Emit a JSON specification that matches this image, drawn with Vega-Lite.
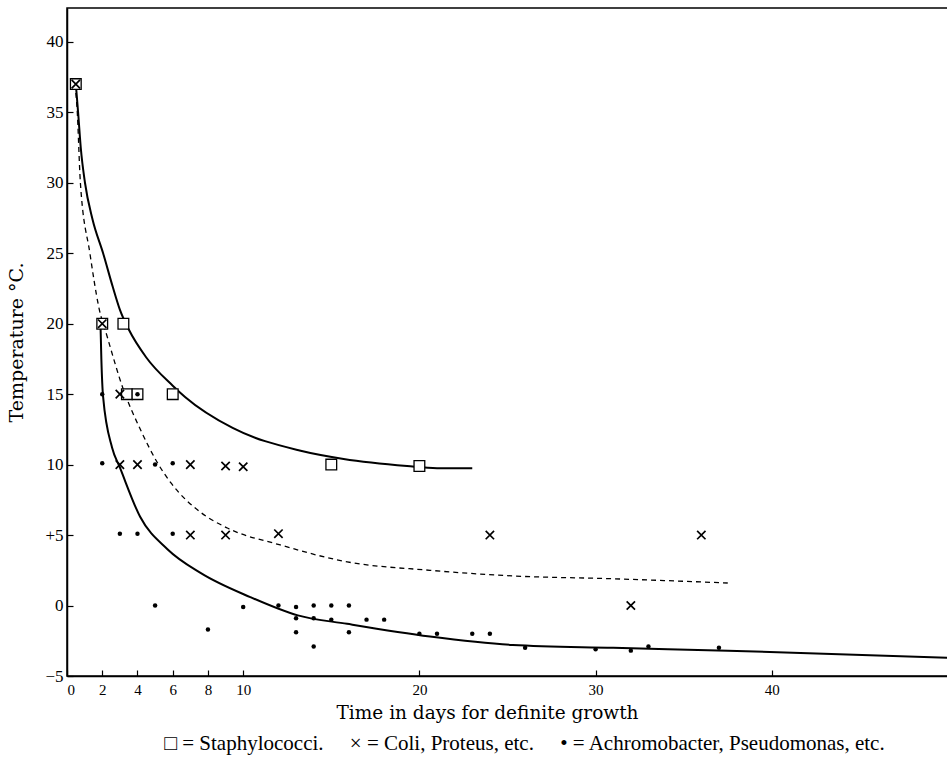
{
  "$schema": "https://vega.github.io/schema/vega-lite/v6.json",
  "width": 881,
  "height": 668,
  "autosize": "none",
  "padding": {"left": 67, "top": 8, "right": 0, "bottom": 89},
  "background": "white",
  "title": {
    "text": "□ = Staphylococci.\u00a0\u00a0\u00a0\u00a0\u00a0× = Coli, Proteus, etc.\u00a0\u00a0\u00a0\u00a0\u00a0• = Achromobacter, Pseudomonas, etc.",
    "orient": "bottom",
    "anchor": "middle",
    "frame": "group",
    "offset": 11,
    "font": "Liberation Serif",
    "fontSize": 21,
    "fontWeight": "normal",
    "color": "black",
    "dx": 17
  },
  "config": {
    "view": {"stroke": "black", "strokeWidth": 1.5},
    "font": "Liberation Serif",
    "title": {"font": "Liberation Serif", "fontWeight": "normal", "color": "black"},
    "axis": {
      "grid": false,
      "domainColor": "black",
      "domainWidth": 1.5,
      "tickColor": "black",
      "tickWidth": 1.2,
      "tickSize": -6,
      "labelColor": "black",
      "labelFont": "Liberation Serif",
      "labelFontSize": 17,
      "titleColor": "black",
      "titleFont": "DejaVu Serif",
      "titleFontWeight": "normal"
    }
  },
  "datasets": {
    "points": [
      {"group": "Staphylococci", "days": 0.5, "temp": 37},
      {"group": "Staphylococci", "days": 2, "temp": 20},
      {"group": "Staphylococci", "days": 3.2, "temp": 20},
      {"group": "Staphylococci", "days": 3.4, "temp": 15},
      {"group": "Staphylococci", "days": 4, "temp": 15},
      {"group": "Staphylococci", "days": 6, "temp": 15},
      {"group": "Staphylococci", "days": 15, "temp": 10},
      {"group": "Staphylococci", "days": 20, "temp": 9.9},
      {"group": "Coli", "days": 0.5, "temp": 37},
      {"group": "Coli", "days": 2, "temp": 20},
      {"group": "Coli", "days": 3, "temp": 15},
      {"group": "Coli", "days": 3, "temp": 10},
      {"group": "Coli", "days": 4, "temp": 10},
      {"group": "Coli", "days": 7, "temp": 10},
      {"group": "Coli", "days": 9, "temp": 9.9},
      {"group": "Coli", "days": 10, "temp": 9.85},
      {"group": "Coli", "days": 7, "temp": 5},
      {"group": "Coli", "days": 9, "temp": 5},
      {"group": "Coli", "days": 12, "temp": 5.1},
      {"group": "Coli", "days": 24, "temp": 5},
      {"group": "Coli", "days": 36, "temp": 5},
      {"group": "Coli", "days": 32, "temp": 0},
      {"group": "Achromobacter", "days": 2, "temp": 15},
      {"group": "Achromobacter", "days": 4, "temp": 15},
      {"group": "Achromobacter", "days": 2, "temp": 10.1},
      {"group": "Achromobacter", "days": 5, "temp": 10},
      {"group": "Achromobacter", "days": 6, "temp": 10.1},
      {"group": "Achromobacter", "days": 3, "temp": 5.1},
      {"group": "Achromobacter", "days": 4, "temp": 5.1},
      {"group": "Achromobacter", "days": 6, "temp": 5.1},
      {"group": "Achromobacter", "days": 5, "temp": 0},
      {"group": "Achromobacter", "days": 8, "temp": -1.7},
      {"group": "Achromobacter", "days": 10, "temp": -0.1},
      {"group": "Achromobacter", "days": 12, "temp": 0},
      {"group": "Achromobacter", "days": 13, "temp": -0.1},
      {"group": "Achromobacter", "days": 13, "temp": -0.9},
      {"group": "Achromobacter", "days": 13, "temp": -1.9},
      {"group": "Achromobacter", "days": 14, "temp": 0},
      {"group": "Achromobacter", "days": 14, "temp": -0.9},
      {"group": "Achromobacter", "days": 14, "temp": -2.9},
      {"group": "Achromobacter", "days": 15, "temp": 0},
      {"group": "Achromobacter", "days": 15, "temp": -1},
      {"group": "Achromobacter", "days": 16, "temp": 0},
      {"group": "Achromobacter", "days": 16, "temp": -1.9},
      {"group": "Achromobacter", "days": 17, "temp": -1},
      {"group": "Achromobacter", "days": 18, "temp": -1},
      {"group": "Achromobacter", "days": 20, "temp": -2},
      {"group": "Achromobacter", "days": 21, "temp": -2},
      {"group": "Achromobacter", "days": 23, "temp": -2},
      {"group": "Achromobacter", "days": 24, "temp": -2},
      {"group": "Achromobacter", "days": 26, "temp": -3},
      {"group": "Achromobacter", "days": 30, "temp": -3.1},
      {"group": "Achromobacter", "days": 32, "temp": -3.2},
      {"group": "Achromobacter", "days": 33, "temp": -2.9},
      {"group": "Achromobacter", "days": 37, "temp": -3}
    ],
    "curves": [
      {"curve": "upper", "days": 0.5, "temp": 37},
      {"curve": "upper", "days": 0.63, "temp": 35},
      {"curve": "upper", "days": 0.78, "temp": 32.5},
      {"curve": "upper", "days": 1.02, "temp": 30},
      {"curve": "upper", "days": 1.45, "temp": 27.4},
      {"curve": "upper", "days": 2.05, "temp": 25},
      {"curve": "upper", "days": 2.6, "temp": 22.6},
      {"curve": "upper", "days": 3.0, "temp": 21.0},
      {"curve": "upper", "days": 3.5, "temp": 19.6},
      {"curve": "upper", "days": 4.5, "temp": 17.6},
      {"curve": "upper", "days": 6.0, "temp": 15.6},
      {"curve": "upper", "days": 6.7, "temp": 14.8},
      {"curve": "upper", "days": 9.4, "temp": 12.6},
      {"curve": "upper", "days": 13.2, "temp": 11.0},
      {"curve": "upper", "days": 15.7, "temp": 10.4},
      {"curve": "upper", "days": 19.3, "temp": 9.9},
      {"curve": "upper", "days": 21.0, "temp": 9.75},
      {"curve": "upper", "days": 23.0, "temp": 9.75},
      {"curve": "middle", "days": 0.45, "temp": 37},
      {"curve": "middle", "days": 0.57, "temp": 35.3},
      {"curve": "middle", "days": 0.76, "temp": 30},
      {"curve": "middle", "days": 1.3, "temp": 25},
      {"curve": "middle", "days": 1.8, "temp": 21.2},
      {"curve": "middle", "days": 2.3, "temp": 19.0},
      {"curve": "middle", "days": 3.18, "temp": 15.4},
      {"curve": "middle", "days": 4.2, "temp": 12.4},
      {"curve": "middle", "days": 5.1, "temp": 10.2},
      {"curve": "middle", "days": 5.9, "temp": 8.7},
      {"curve": "middle", "days": 7.6, "temp": 6.6},
      {"curve": "middle", "days": 9.1, "temp": 5.5},
      {"curve": "middle", "days": 12.1, "temp": 4.3},
      {"curve": "middle", "days": 15.9, "temp": 3.1},
      {"curve": "middle", "days": 20.6, "temp": 2.5},
      {"curve": "middle", "days": 25.3, "temp": 2.1},
      {"curve": "middle", "days": 31.0, "temp": 1.9},
      {"curve": "middle", "days": 37.5, "temp": 1.6},
      {"curve": "lower", "days": 1.9, "temp": 20},
      {"curve": "lower", "days": 1.95, "temp": 17.5},
      {"curve": "lower", "days": 2.05, "temp": 14.8},
      {"curve": "lower", "days": 2.56, "temp": 11.2},
      {"curve": "lower", "days": 3.0, "temp": 9.8},
      {"curve": "lower", "days": 4.15, "temp": 6.3},
      {"curve": "lower", "days": 5.7, "temp": 4.0},
      {"curve": "lower", "days": 7.6, "temp": 2.3},
      {"curve": "lower", "days": 10.4, "temp": 0.6},
      {"curve": "lower", "days": 13.1, "temp": -0.7},
      {"curve": "lower", "days": 15.9, "temp": -1.3},
      {"curve": "lower", "days": 20.6, "temp": -2.2},
      {"curve": "lower", "days": 25.3, "temp": -2.8},
      {"curve": "lower", "days": 31.0, "temp": -3.0},
      {"curve": "lower", "days": 37.5, "temp": -3.2},
      {"curve": "lower", "days": 50, "temp": -3.7}
    ]
  },
  "encoding": {
    "x": {
      "field": "days",
      "type": "quantitative",
      "scale": {"domain": [0, 50], "nice": false, "zero": false},
      "axis": {
        "values": [0, 2, 4, 6, 8, 10, 20, 30, 40],
        "labelPadding": 12,
        "labelFontSize": 15,
        "title": "Time in days for definite growth",
        "titleFontSize": 18.5,
        "titlePadding": 6,
        "titleX": 420
      }
    },
    "y": {
      "field": "temp",
      "type": "quantitative",
      "scale": {"domain": [-5, 42.4], "nice": false, "zero": false},
      "axis": {
        "values": [-5, 0, 5, 10, 15, 20, 25, 30, 35, 40],
        "labelExpr": "datum.value == 5 ? '+5' : datum.label",
        "labelPadding": 10,
        "title": "Temperature °C.",
        "titleFontSize": 19,
        "titlePadding": 18
      }
    }
  },
  "layer": [
    {
      "data": {"name": "curves"},
      "transform": [{"filter": "datum.curve == 'upper'"}],
      "mark": {"type": "line", "color": "black", "strokeWidth": 2, "interpolate": "monotone"},
      "encoding": {}
    },
    {
      "data": {"name": "curves"},
      "transform": [{"filter": "datum.curve == 'middle'"}],
      "mark": {"type": "line", "color": "black", "strokeWidth": 1.3, "strokeDash": [5, 4], "interpolate": "monotone"},
      "encoding": {}
    },
    {
      "data": {"name": "curves"},
      "transform": [{"filter": "datum.curve == 'lower'"}],
      "mark": {"type": "line", "color": "black", "strokeWidth": 2, "interpolate": "monotone"},
      "encoding": {}
    },
    {
      "data": {"name": "points"},
      "transform": [{"filter": "datum.group == 'Staphylococci'"}],
      "mark": {"type": "point", "shape": "square", "size": 115, "filled": true, "fill": "white", "stroke": "black", "strokeWidth": 1.3, "opacity": 1},
      "encoding": {}
    },
    {
      "data": {"name": "points"},
      "transform": [{"filter": "datum.group == 'Coli'"}],
      "mark": {"type": "point", "shape": "M-1,-1L1,1M-1,1L1,-1", "size": 70, "filled": false, "stroke": "black", "strokeWidth": 1.7, "opacity": 1},
      "encoding": {}
    },
    {
      "data": {"name": "points"},
      "transform": [{"filter": "datum.group == 'Achromobacter'"}],
      "mark": {"type": "point", "shape": "circle", "size": 20, "filled": true, "fill": "black", "strokeWidth": 0, "opacity": 1},
      "encoding": {}
    }
  ]
}
